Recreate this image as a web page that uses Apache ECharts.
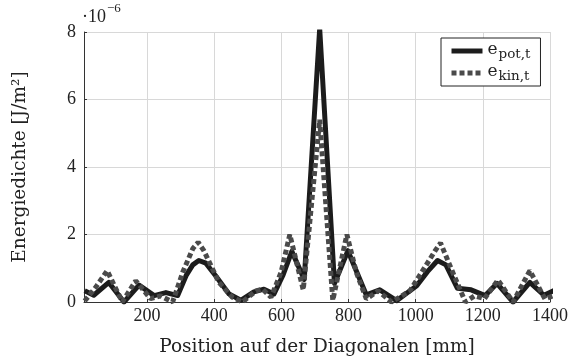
<!DOCTYPE html>
<html>
<head>
<meta charset="utf-8">
<script src="https://cdn.jsdelivr.net/npm/echarts@6/dist/echarts.min.js"></script>
<style>
  html, body { margin: 0; padding: 0; background: #fff; }
  #chart { width: 569px; height: 359px; }
</style>
</head>
<body>
<div id="chart"></div>
<script>
// Energy density along the plate diagonal, values in units of 1e-6 J/m^2
const posPot = [14, 41, 86, 131, 176, 221, 256, 291, 316, 336, 354, 375, 404, 444, 479, 518, 548, 578, 605, 631, 668, 714, 758, 798, 853, 893, 943, 1003, 1035, 1065, 1090, 1124, 1165, 1207, 1242, 1290, 1340, 1382, 1414];
const ePot   = [0.33, 0.2, 0.58, 0.0, 0.5, 0.19, 0.28, 0.19, 0.78, 1.1, 1.23, 1.15, 0.78, 0.24, 0.05, 0.3, 0.38, 0.24, 0.8, 1.5, 0.67, 8.1, 0.55, 1.52, 0.21, 0.36, 0.04, 0.48, 0.9, 1.23, 1.1, 0.41, 0.36, 0.19, 0.55, 0.0, 0.58, 0.2, 0.35];

const posKin = [14, 48, 81, 126, 166, 210, 240, 276, 306, 336, 352, 369, 414, 454, 484, 524, 544, 569, 599, 625, 665, 714, 753, 795, 823, 853, 888, 928, 983, 1058, 1074, 1106, 1148, 1175, 1205, 1245, 1290, 1340, 1385, 1414];
const eKin   = [0.03, 0.45, 0.93, 0.0, 0.63, 0.1, 0.18, 0.0, 0.88, 1.58, 1.77, 1.52, 0.58, 0.14, 0.0, 0.33, 0.38, 0.14, 0.88, 2.0, 0.36, 5.4, 0.05, 2.0, 0.88, 0.09, 0.33, 0.0, 0.33, 1.52, 1.75, 0.98, 0.0, 0.18, 0.1, 0.65, 0.0, 0.93, 0.09, 0.2];

const xTicks = [200, 400, 600, 800, 1000, 1200, 1400];

const numFont = '"Liberation Serif", serif';
const textFont = '"DejaVu Serif", serif';
const textColor = '#222';

const pair = (xs, ys) => xs.map((x, i) => [x, ys[i]]);

const chart = echarts.init(document.getElementById('chart'), null, { renderer: 'canvas' });

chart.setOption({
  animation: false,
  backgroundColor: '#fff',
  textStyle: { fontFamily: numFont, color: textColor },
  title: {
    text: '{m|·10}{s|−6}',
    left: 82,
    top: 0,
    padding: 0,
    textStyle: {
      fontWeight: 'normal',
      rich: {
        m: { fontFamily: numFont, fontSize: 18, fontWeight: 'normal', color: textColor, verticalAlign: 'bottom', lineHeight: 26 },
        s: { fontFamily: numFont, fontSize: 13, fontWeight: 'normal', color: textColor, verticalAlign: 'top', lineHeight: 26, padding: [2, 0, 0, 1] }
      }
    }
  },
  grid: { left: 84, right: 19, top: 32, bottom: 57, containLabel: false, outerBoundsMode: 'none' },
  legend: {
    orient: 'vertical',
    left: 441,
    top: 38,
    padding: [3, 10, 3, 8],
    itemGap: 2,
    itemWidth: 31,
    itemHeight: 16,
    borderColor: '#222',
    borderWidth: 1,
    backgroundColor: '#fff',
    itemStyle: { opacity: 0 },
    lineStyle: { width: 5, cap: 'butt' },
    data: ['pot', 'kin'],
    formatter: name => '{e|e}{s|' + (name === 'pot' ? 'pot,t' : 'kin,t') + '}',
    textStyle: {
      rich: {
        e: { fontFamily: textFont, fontSize: 17, color: textColor, verticalAlign: 'top', lineHeight: 20 },
        s: { fontFamily: textFont, fontSize: 13.5, color: textColor, verticalAlign: 'bottom', lineHeight: 20, padding: [0, 0, 0, 1] }
      }
    }
  },
  xAxis: {
    type: 'value',
    min: 12,
    max: 1400,
    name: 'Position auf der Diagonalen [mm]',
    nameLocation: 'middle',
    nameGap: 36,
    nameTextStyle: { fontFamily: textFont, fontSize: 18.5, color: textColor },
    axisLine: { show: true, onZero: false, lineStyle: { color: '#333', width: 1 } },
    axisTick: { show: true, inside: true, length: 3, customValues: xTicks, lineStyle: { color: '#333' } },
    axisLabel: { customValues: xTicks, formatter: v => String(v), fontFamily: numFont, fontSize: 18, color: textColor, margin: 5 },
    splitLine: { show: true, lineStyle: { color: '#d8d8d8', width: 1 } }
  },
  yAxis: {
    type: 'value',
    min: 0,
    max: 8,
    interval: 2,
    name: 'Energiedichte [J/m²]',
    nameLocation: 'middle',
    nameGap: 54,
    nameRotate: 90,
    nameTextStyle: { fontFamily: textFont, fontSize: 18.5, color: textColor },
    axisLine: { show: true, lineStyle: { color: '#333', width: 1 } },
    axisTick: { show: true, inside: true, length: 3, lineStyle: { color: '#333' } },
    axisLabel: { formatter: v => String(v), fontFamily: numFont, fontSize: 18, color: textColor, margin: 8 },
    splitLine: { show: true, lineStyle: { color: '#d8d8d8', width: 1 } }
  },
  series: [
    {
      name: 'pot',
      type: 'line',
      data: pair(posPot, ePot),
      symbol: 'none',
      clip: true,
      lineStyle: { color: '#1c1c1c', width: 5, join: 'round' },
      itemStyle: { color: '#1c1c1c' }
    },
    {
      name: 'kin',
      type: 'line',
      data: pair(posKin, eKin),
      symbol: 'none',
      clip: true,
      lineStyle: { color: '#4a4a4a', width: 5, type: [5, 3], cap: 'butt' },
      itemStyle: { color: '#4a4a4a' }
    }
  ]
});
</script>
</body>
</html>
